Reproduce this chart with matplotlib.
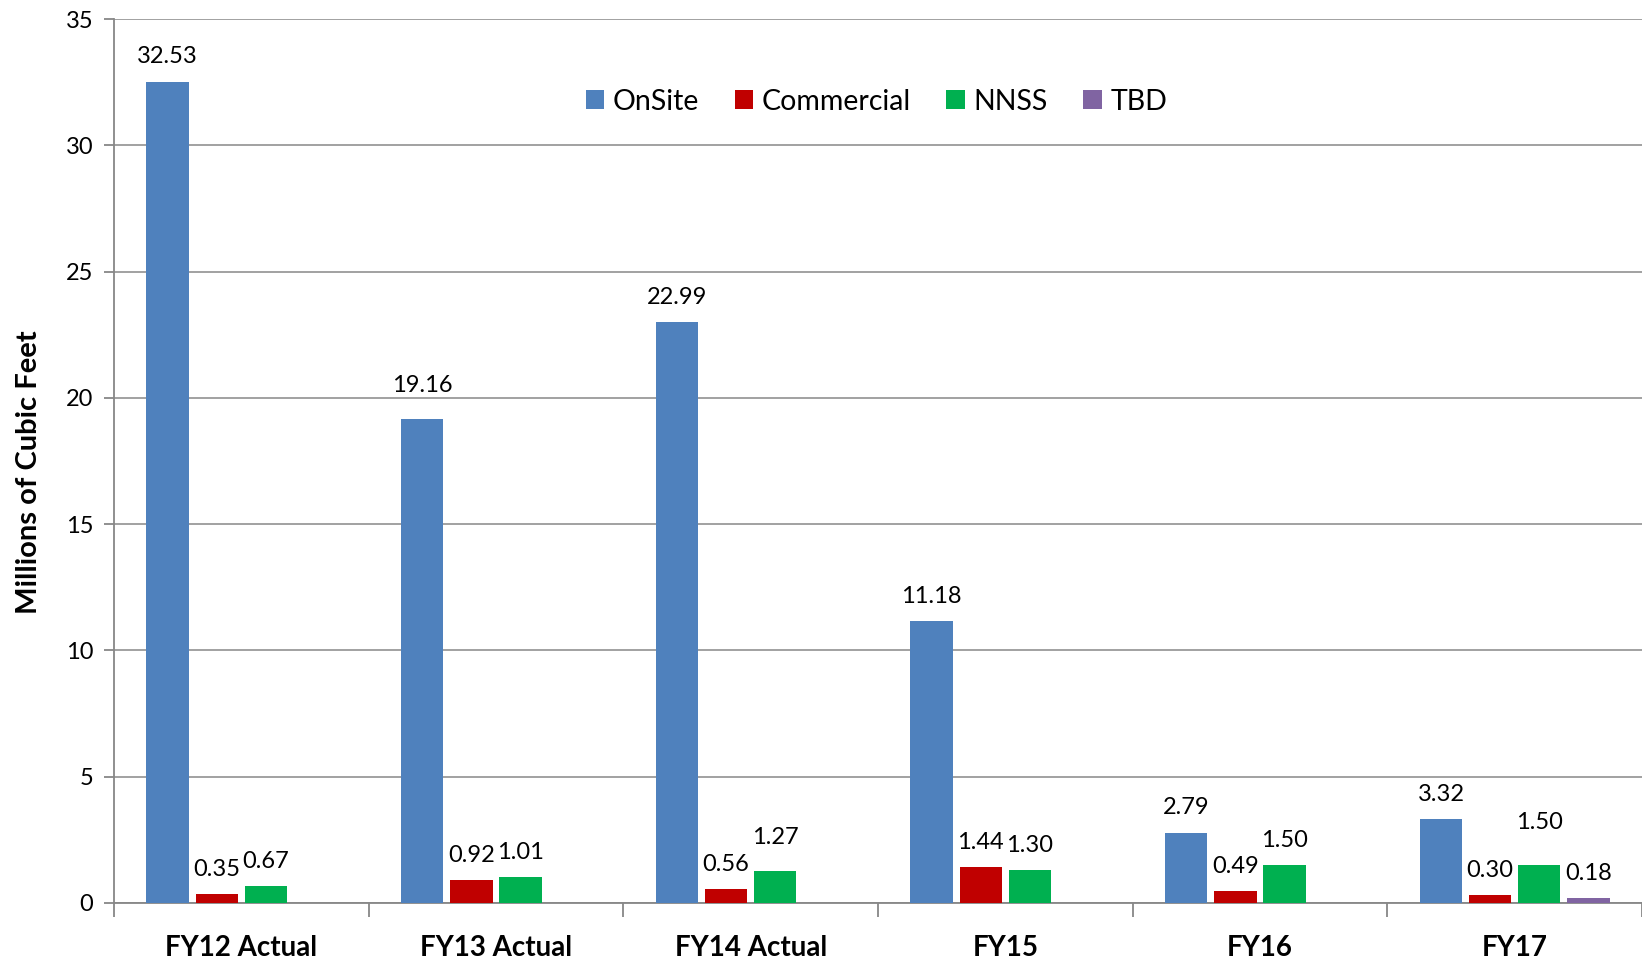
import numpy as np
import matplotlib
matplotlib.use('Agg')
import matplotlib.pyplot as plt
from matplotlib.ticker import FixedLocator

plt.rcParams['font.family'] = ['Lato', 'DejaVu Sans']

categories = ['FY12 Actual', 'FY13 Actual', 'FY14 Actual', 'FY15', 'FY16', 'FY17']
onsite = [32.53, 19.16, 22.99, 11.18, 2.79, 3.32]
commercial = [0.35, 0.92, 0.56, 1.44, 0.49, 0.30]
nnss = [0.67, 1.01, 1.27, 1.30, 1.50, 1.50]
tbd = [0, 0, 0, 0, 0, 0.18]

series = [('OnSite', onsite, '#4F81BD'),
          ('Commercial', commercial, '#C00000'),
          ('NNSS', nnss, '#00B050'),
          ('TBD', tbd, '#8064A2')]

# a few labels were nudged up by hand in the original (extra points)
label_nudge = {('OnSite', 1): 6.5, ('NNSS', 2): 6.5, ('NNSS', 5): 13}

fig = plt.figure(figsize=(16.42, 9.59), dpi=100)
ax = fig.add_axes([0.0694, 0.0584, 0.9306, 0.9216])

index = np.arange(len(categories))
step = 0.193
bar_width = 0.166
grid_col = '#878787'

for i, (name, vals, col) in enumerate(series):
    pos = index + (i - 1.5) * step
    ax.bar(pos, vals, bar_width, color=col, label=name, zorder=3)
    for j, (x, v) in enumerate(zip(pos, vals)):
        if v <= 0:
            continue
        off = 13 + label_nudge.get((name, j), 0)
        ax.annotate('%.2f' % v, (x, v), xytext=(0, off), textcoords='offset points',
                    ha='center', va='baseline', fontsize=17, color='black')

ax.set_xlim(-0.5, len(categories) - 0.5)
ax.set_ylim(0, 35)
ax.set_yticks(np.arange(0, 36, 5))
ax.yaxis.grid(True, color=grid_col, lw=1.1, zorder=0)
ax.set_axisbelow(True)

ax.set_xticks(index)
ax.set_xticklabels(categories, fontsize=20, fontweight='bold')
ax.xaxis.set_minor_locator(FixedLocator(np.arange(-0.5, len(categories), 1.0)))
ax.tick_params(axis='x', which='major', length=0, pad=23)
ax.tick_params(axis='x', which='minor', length=10, width=1.3, color=grid_col)
ax.tick_params(axis='y', length=7, width=1.3, color=grid_col, labelsize=17, pad=8)

for s in ['top', 'right']:
    ax.spines[s].set_visible(False)
for s in ['left', 'bottom']:
    ax.spines[s].set_color(grid_col)
    ax.spines[s].set_linewidth(1.3)

ax.set_ylabel('Millions of Cubic Feet', fontsize=21, fontweight='bold', labelpad=17)
ax.yaxis.label.set_y(0.488)

ax.legend(loc='upper center', bbox_to_anchor=(0.499, 0.95), ncol=4, frameon=False,
          fontsize=20.5, handlelength=0.65, handleheight=0.65, handletextpad=0.3,
          columnspacing=1.25)

fig.savefig('out.png', dpi=100)
